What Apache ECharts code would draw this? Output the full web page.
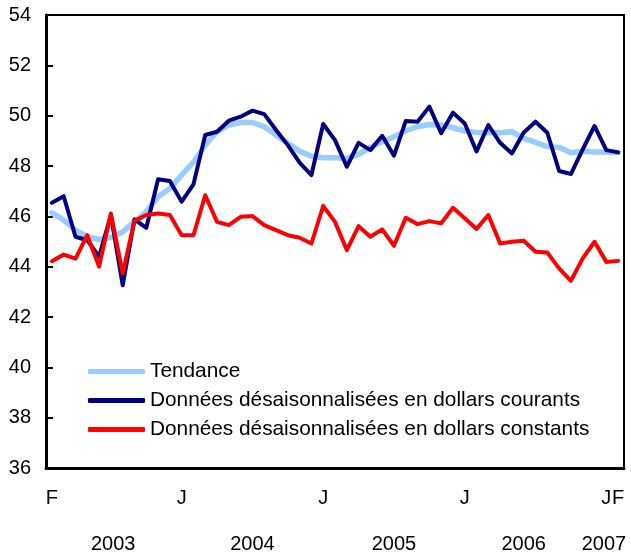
<!DOCTYPE html>
<html>
<head>
<meta charset="utf-8">
<script src="https://cdn.jsdelivr.net/npm/echarts@6/dist/echarts.min.js"></script>
<style>
  html, body { margin: 0; padding: 0; background: #fff; }
  #chart { width: 631px; height: 556px; }
</style>
</head>
<body>
<div id="chart"></div>
<script>
// mois de février 2003 à février 2007
const months = [
  "2003-02", "2003-03", "2003-04", "2003-05", "2003-06", "2003-07", "2003-08", "2003-09", "2003-10", "2003-11", "2003-12",
  "2004-01", "2004-02", "2004-03", "2004-04", "2004-05", "2004-06", "2004-07", "2004-08", "2004-09", "2004-10", "2004-11", "2004-12",
  "2005-01", "2005-02", "2005-03", "2005-04", "2005-05", "2005-06", "2005-07", "2005-08", "2005-09", "2005-10", "2005-11", "2005-12",
  "2006-01", "2006-02", "2006-03", "2006-04", "2006-05", "2006-06", "2006-07", "2006-08", "2006-09", "2006-10", "2006-11", "2006-12",
  "2007-01", "2007-02",
];

// lettres affichées sous l'axe
const monthLetters = {
  "2003-02": "F",
  "2004-01": "J",
  "2005-01": "J",
  "2006-01": "J",
  "2007-01": "J",
  "2007-02": "F",
};

const years = ["2003", "2004", "2005", "2006", "2007"];
const yearCenters = [5.2, 17, 29, 40, 46.8];

const tendance = [
  46.14, 45.85, 45.45, 45.19, 45.08, 45.16, 45.38, 45.78, 46.18, 46.78, 47.11,
  47.64, 48.15, 48.83, 49.36, 49.63, 49.73, 49.73, 49.56, 49.23, 48.90, 48.59, 48.39,
  48.33, 48.33, 48.30, 48.46, 48.74, 48.96, 49.16, 49.40, 49.56, 49.65, 49.63, 49.52,
  49.39, 49.33, 49.32, 49.32, 49.36, 49.10, 48.94, 48.77, 48.74, 48.53, 48.59, 48.56,
  48.56, 48.54,
];

const courants = [
  46.54, 46.80, 45.19, 45.05, 44.40, 46.05, 43.26, 45.88, 45.54, 47.47, 47.40,
  46.58, 47.27, 49.23, 49.36, 49.80, 49.96, 50.20, 50.06, 49.43, 48.83, 48.13, 47.64,
  49.67, 49.03, 47.97, 48.92, 48.63, 49.20, 48.41, 49.79, 49.76, 50.36, 49.30, 50.12,
  49.69, 48.58, 49.63, 48.92, 48.50, 49.33, 49.76, 49.32, 47.80, 47.68, 48.66, 49.59,
  48.63, 48.54,
];

const constants = [
  44.22, 44.48, 44.32, 45.25, 44.00, 46.11, 43.73, 45.82, 46.05, 46.11, 46.05,
  45.25, 45.25, 46.84, 45.78, 45.65, 45.98, 46.01, 45.65, 45.45, 45.25, 45.15, 44.92,
  46.41, 45.78, 44.66, 45.61, 45.19, 45.48, 44.83, 45.94, 45.69, 45.81, 45.72, 46.34,
  45.92, 45.50, 46.05, 44.92, 44.99, 45.03, 44.59, 44.56, 43.93, 43.44, 44.33, 44.99,
  44.19, 44.23,
];

const font = "Liberation Sans, Arial, Helvetica, sans-serif";

const chart = echarts.init(document.getElementById("chart"), null, { renderer: "canvas" });

function lineSeries(name, data, color, width) {
  return {
    name: name,
    type: "line",
    data: data,
    symbol: "none",
    animation: false,
    lineStyle: { color: color, width: width, cap: "round", join: "round" },
    itemStyle: { color: color },
  };
}

const option = {
  backgroundColor: "#fff",
  textStyle: { fontFamily: font },
  grid: {
    left: 46,
    right: 7,
    top: 15,
    bottom: 88,
    show: true,
    borderColor: "#000",
    borderWidth: 2,
  },
  legend: {
    orient: "vertical",
    left: 88,
    top: 361,
    padding: 0,
    icon: "roundRect",
    itemWidth: 57,
    itemHeight: 5,
    itemGap: 8,
    textStyle: { fontSize: 20.8, color: "#000", fontFamily: font },
    data: [
      "Tendance",
      "Données désaisonnalisées en dollars courants",
      "Données désaisonnalisées en dollars constants",
    ],
  },
  xAxis: [
    {
      type: "category",
      data: months,
      boundaryGap: true,
      axisLine: { lineStyle: { color: "#000", width: 3 } },
      axisTick: { inside: true, length: 5, interval: 0, lineStyle: { color: "#000", width: 2 } },
      axisLabel: {
        interval: 0,
        margin: 20,
        fontSize: 20,
        color: "#000",
        fontFamily: font,
        formatter: (v) => monthLetters[v] || "",
      },
      splitLine: { show: false },
    },
    {
      type: "value",
      position: "bottom",
      offset: 46,
      min: -0.5,
      max: 48.5,
      axisLine: { show: false },
      axisTick: { show: false },
      splitLine: { show: false },
      axisLabel: {
        margin: 20,
        fontSize: 20,
        color: "#000",
        fontFamily: font,
        customValues: yearCenters,
        formatter: (v) => {
          const i = yearCenters.indexOf(v);
          return i >= 0 ? years[i] : "";
        },
      },
    },
  ],
  yAxis: {
    type: "value",
    min: 36,
    max: 54,
    interval: 2,
    axisLine: { show: true, onZero: false, lineStyle: { color: "#000", width: 3 } },
    axisTick: { show: true, inside: true, length: 7, lineStyle: { color: "#000", width: 2 } },
    axisLabel: { margin: 15, fontSize: 20, color: "#000", fontFamily: font },
    splitLine: { show: false },
  },
  series: [
    lineSeries("Tendance", tendance, "#99ccff", 5.5),
    lineSeries("Données désaisonnalisées en dollars courants", courants, "#000080", 4),
    lineSeries("Données désaisonnalisées en dollars constants", constants, "#ff0000", 4),
  ],
};

chart.setOption(option);
</script>
</body>
</html>
